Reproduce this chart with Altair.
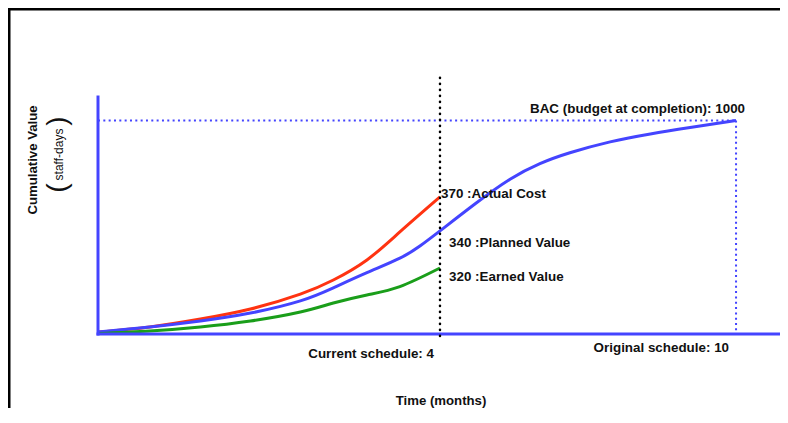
import altair as alt
import pandas as pd

# ---- data (months, staff-days) ----
ac_months = [0, 0.25, 0.68, 1.22, 1.85, 2.31, 2.81, 3.33, 4.0]
ac_values = [9, 33, 70, 117, 187, 253, 347, 478, 642]

pv_months = [0, 0.25, 0.68, 1.22, 1.85, 2.31, 2.81, 3.33, 3.66, 4.0,
             4.62, 5.26, 5.83, 6.42, 7.24, 8.09, 8.96, 10.0]
pv_values = [9, 33, 61, 98, 155, 216, 287, 355, 412, 483,
             610, 725, 798, 849, 900, 937, 967, 1000]

ev_months = [0, 0.25, 0.68, 1.22, 1.85, 2.31, 2.81, 3.33, 4.0]
ev_values = [2, 14, 33, 61, 103, 145, 183, 222, 309]

current_month = 4
original_month = 10
bac = 1000
x_max = 11.2
y_axis_top = 1110

label_texts = ["370 :Actual Cost", "340 :Planned Value", "320 :Earned Value"]
bac_text = "BAC (budget at completion): 1000"
current_text = "Current schedule: 4"
original_text = "Original schedule: 10"
x_title = "Time (months)"
y_title = "Cumulative Value"
y_unit = "staff-days"

BLUE = "#4444ff"
RED = "#ff3311"
GREEN = "#1a9e1a"
TXT = "#111111"
FONT = "Liberation Sans"

x_scale = alt.Scale(type="pow", exponent=0.6806, domain=[0, x_max], range=[0, 689.2], nice=False)
y_scale = alt.Scale(domain=[0, bac], range=[326, 112.5], nice=False)


def X(field):
    return alt.X(field, type="quantitative", scale=x_scale, axis=None)


def Y(field):
    return alt.Y(field, type="quantitative", scale=y_scale, axis=None)


def curve(months, values, color):
    df = pd.DataFrame({"month": months, "value": values})
    return alt.Chart(df).mark_line(color=color, strokeWidth=3, interpolate="natural").encode(
        x=X("month"), y=Y("value"))


# axes drawn as blue lines
x_axis = alt.Chart(pd.DataFrame({"a": [0], "b": [x_max], "v": [0]})).mark_rule(
    color=BLUE, strokeWidth=3, strokeCap="square").encode(x=X("a"), x2="b:Q", y=Y("v"))
y_axis = alt.Chart(pd.DataFrame({"m": [0], "a": [0], "b": [y_axis_top]})).mark_rule(
    color=BLUE, strokeWidth=3, strokeCap="square").encode(x=X("m"), y=Y("a"), y2="b:Q")

# BAC dotted lines
bac_h = alt.Chart(pd.DataFrame({"a": [0], "b": [original_month], "v": [bac]})).mark_rule(
    color=BLUE, strokeWidth=2, strokeDash=[2, 3.33]).encode(x=X("a"), x2="b:Q", y=Y("v"))
bac_v = alt.Chart(pd.DataFrame({"m": [original_month], "a": [bac], "b": [0]})).mark_rule(
    color=BLUE, strokeWidth=2, strokeDash=[2, 3.33]).encode(x=X("m"), y=Y("a"), y2="b:Q")

# current schedule dotted line
cur_v = alt.Chart(pd.DataFrame({"m": [current_month], "a": [1200], "b": [-28]})).mark_rule(
    color="black", strokeWidth=2.5, strokeCap="round", strokeDash=[0.1, 5.9]).encode(
    x=X("m"), y=Y("a"), y2="b:Q")

ac_line = curve(ac_months, ac_values, RED)
pv_line = curve(pv_months, pv_values, BLUE)
ev_line = curve(ev_months, ev_values, GREEN)


def text_at(txt, m, v, align, dx, dy, size=13.4, weight="bold"):
    df = pd.DataFrame({"m": [m], "v": [v], "t": [txt]})
    return alt.Chart(df).mark_text(
        align=align, baseline="alphabetic", dx=dx, dy=dy, font=FONT,
        fontSize=size, fontWeight=weight, color=TXT).encode(x=X("m"), y=Y("v"), text="t:N")


ac_label = text_at(label_texts[0], current_month, ac_values[-1], "left", 1, 1)
pv_label = text_at(label_texts[1], current_month, pv_values[pv_months.index(4.0)], "left", 9, 16)
ev_label = text_at(label_texts[2], current_month, ev_values[-1], "left", 9, 12.7)
bac_label = text_at(bac_text, original_month, bac, "right", 9, -7.5)
cur_label = text_at(current_text, current_month, 0, "right", -6, 24)
orig_label = text_at(original_text, original_month, 0, "right", -7, 18)


def free_text(txt, x, y, size, weight="bold", angle=0):
    df = pd.DataFrame({"t": [txt]})
    return alt.Chart(df).mark_text(
        align="center", baseline="middle", angle=angle, font=FONT, fontSize=size,
        fontWeight=weight, color=TXT).encode(x=alt.value(x), y=alt.value(y), text="t:N")


x_title_mark = alt.Chart(pd.DataFrame({"t": [x_title]})).mark_text(
    align="center", baseline="alphabetic", font=FONT, fontSize=13.2, fontWeight="bold",
    color=TXT).encode(x=alt.value(343), y=alt.value(397), text="t:N")
y_title_mark = free_text(y_title, -65, 152, 13.2, "bold", 270)
y_unit_mark = free_text(y_unit, -39.5, 146.5, 12, "normal", 270)
paren_l = free_text("(", -40, 180, 28, "normal", 270)
paren_r = free_text(")", -40, 113, 28, "normal", 270)

# frame (top and left edges visible)
frame_left = alt.Chart(pd.DataFrame({"k": [0]})).mark_rule(color="black", strokeWidth=2.5).encode(
    x=alt.value(-88.75), y=alt.value(0), y2=alt.value(400))
frame_top = alt.Chart(pd.DataFrame({"k": [0]})).mark_rule(color="black", strokeWidth=2.5).encode(
    x=alt.value(-90), x2=alt.value(700), y=alt.value(1.25))

chart = alt.layer(
    frame_left, frame_top,
    bac_h, bac_v,
    ac_line, pv_line, ev_line,
    x_axis, y_axis,
    cur_v,
    ac_label, pv_label, ev_label, bac_label, cur_label, orig_label,
    x_title_mark, y_title_mark, y_unit_mark, paren_l, paren_r,
).properties(
    width=682, height=326,
    padding={"left": 90, "top": 0, "right": 0, "bottom": 74},
    autosize="none",
    background="white",
).configure_view(stroke="transparent")

chart.save("out.html", embed_options={"renderer": "svg", "actions": False})
